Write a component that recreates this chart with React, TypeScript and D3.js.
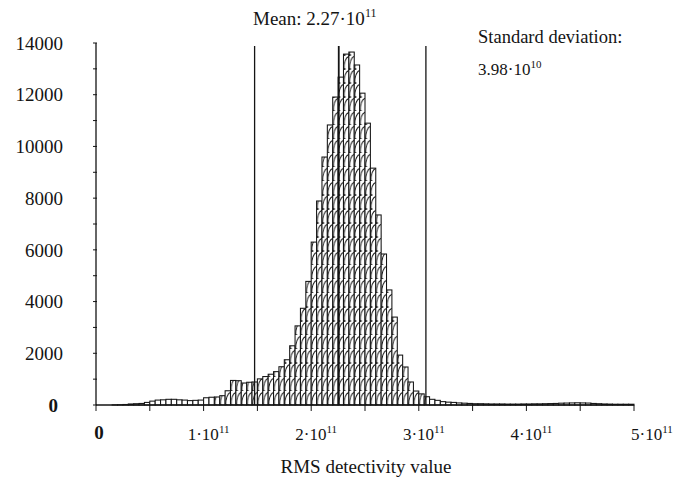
import React from "react";
import * as d3 from "d3";

// ---- data ----
const binWidth = 0.05e11; // histogram bin width (RMS detectivity units)
const counts: number[] = [
  0, 0, 0, 5, 10, 20, 40, 50, 60, 100,
  150, 190, 200, 220, 220, 200, 190, 170, 180, 190,
  280, 300, 310, 360, 550, 950, 940, 850, 880, 890,
  1010, 1100, 1190, 1290, 1480, 1750, 2290, 3060, 3740, 4780,
  6300, 7890, 9590, 10830, 11910, 12680, 13570, 13650, 13150, 12060,
  10900, 9160, 7350, 5840, 4450, 3400, 1930, 1470, 890, 540,
  430, 320, 220, 180, 130, 110, 100, 80, 70, 60,
  50, 50, 45, 40, 40, 40, 35, 35, 35, 40,
  40, 45, 45, 50, 55, 60, 70, 75, 80, 85,
  80, 75, 60, 50, 40, 35, 30, 30, 30, 30,
];
const mean = 2.27e11;
const stdDev = 3.98e10;
const yTicks = [0, 2000, 4000, 6000, 8000, 10000, 12000, 14000];
const yMinorTicks = [1000, 3000, 5000, 7000, 9000, 11000, 13000];
const xTicks = [0, 0.5e11, 1e11, 1.5e11, 2e11, 2.5e11, 3e11, 3.5e11, 4e11, 4.5e11, 5e11];
const xLabelMantissa = ["0", "1", "2", "3", "4", "5"];
const xLabelValues = [0, 1e11, 2e11, 3e11, 4e11, 5e11];
const xTitle = "RMS detectivity value";
const meanText = { label: "Mean: 2.27·10", exp: "11" };
const sdTitle = "Standard deviation:";
const sdText = { label: "3.98·10", exp: "10" };

export default function App() {
  const W = 675;
  const H = 480;
  const x = d3.scaleLinear().domain([0, 5e11]).range([96, 634]);
  const y = d3.scaleLinear().domain([0, 14000]).range([405, 43]);
  const bw = x(binWidth) - x(0);
  const ph = 14;
  const font = "'Liberation Serif', 'Times New Roman', serif";
  const ink = "#141414";
  const lineTop = 46;
  const lines = [mean - 2 * stdDev, mean, mean + 2 * stdDev];

  return (
    <svg
      width={W}
      height={H}
      style={{ position: "absolute", left: 0, top: 0, background: "#fff" }}
      fontFamily={font}
    >
      <defs>
        <pattern
          id="brick"
          patternUnits="userSpaceOnUse"
          x={x(0)}
          y={y(0)}
          width={bw}
          height={ph}
        >
          <rect width={bw} height={ph} fill="#fff" />
          <path
            d={`M0.6,${ph} C0.6,${ph - 6} ${bw * 0.35},${3} ${bw},${1.2}`}
            fill="none"
            stroke={ink}
            strokeWidth={1}
          />
          <path
            d={`M0,${ph - 0.5} L${bw * 0.4},${ph - 0.5}`}
            fill="none"
            stroke={ink}
            strokeWidth={0.7}
          />
        </pattern>
      </defs>

      {/* bars */}
      <g>
        {counts.map((c, i) => {
          if (c <= 0) return null;
          const x0 = x(i * binWidth);
          const x1 = x((i + 1) * binWidth);
          const yt = y(c);
          return (
            <rect
              key={i}
              x={x0}
              y={yt}
              width={x1 - x0}
              height={y(0) - yt}
              fill={c > 300 ? "url(#brick)" : "#fff"}
              stroke={ink}
              strokeWidth={1.05}
            />
          );
        })}
      </g>

      {/* mean and ±2σ lines */}
      {lines.map((v, i) => (
        <line
          key={i}
          x1={x(v) - (i === 1 ? 1.5 : 0)}
          x2={x(v) - (i === 1 ? 1.5 : 0)}
          y1={lineTop}
          y2={y(0)}
          stroke={ink}
          strokeWidth={i === 1 ? 1.8 : 1.3}
        />
      ))}

      {/* y axis */}
      <line x1={x(0)} x2={x(0)} y1={y(14000)} y2={y(0)} stroke={ink} strokeWidth={1.3} />
      {[...yTicks, ...yMinorTicks].map((t) => (
        <line key={"yt" + t} x1={x(0) - 3} x2={x(0) + 1} y1={y(t)} y2={y(t)} stroke={ink} strokeWidth={1} />
      ))}
      {yTicks.map((t) => (
        <text
          key={"yl" + t}
          x={t === 0 ? 58 : 63}
          y={y(t)}
          dy="0.35em"
          textAnchor="end"
          fontSize={19}
          fontWeight={t === 0 ? "bold" : "normal"}
          fill={ink}
        >
          {t}
        </text>
      ))}

      {/* x axis */}
      <line x1={x(0)} x2={x(5e11)} y1={y(0)} y2={y(0)} stroke={ink} strokeWidth={1.3} />
      {xTicks.map((t) => (
        <line key={"xt" + t} x1={x(t)} x2={x(t)} y1={y(0)} y2={y(0) + 6} stroke={ink} strokeWidth={1} />
      ))}
      {xLabelValues.map((v, i) =>
        v === 0 ? (
          <text key="x0" x={x(v) + 3} y={439} textAnchor="middle" fontSize={19} fontWeight="bold" fill={ink}>
            0
          </text>
        ) : (
          <text
            key={"xl" + v}
            x={x(v) + (i === xLabelValues.length - 1 ? 18 : 5)}
            y={440}
            textAnchor="middle"
            fontSize={17}
            fill={ink}
          >
            {xLabelMantissa[i]}·10
            <tspan dy={-7} fontSize={11}>
              11
            </tspan>
          </text>
        )
      )}
      <text x={366} y={473} textAnchor="middle" fontSize={19} fill={ink}>
        {xTitle}
      </text>

      {/* annotations */}
      <text x={253} y={25} fontSize={19} fill={ink}>
        {meanText.label}
        <tspan dy={-8} fontSize={12}>
          {meanText.exp}
        </tspan>
      </text>
      <text x={478} y={43} fontSize={18.5} fill={ink}>
        {sdTitle}
      </text>
      <text x={478} y={75} fontSize={17} fill={ink}>
        {sdText.label}
        <tspan dy={-7} fontSize={11}>
          {sdText.exp}
        </tspan>
      </text>
    </svg>
  );
}
